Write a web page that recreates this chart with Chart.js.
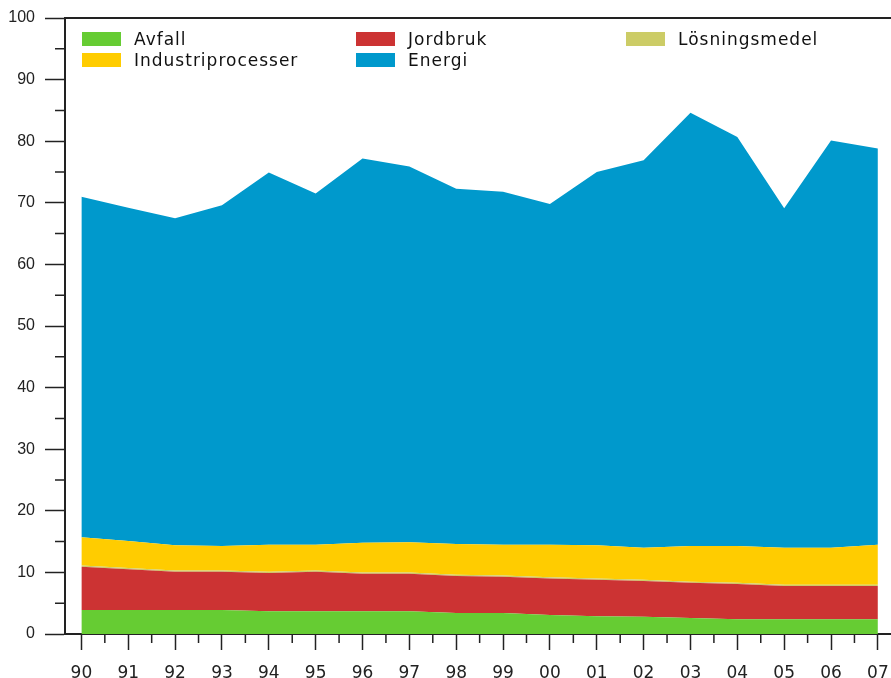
<!DOCTYPE html>
<html><head><meta charset="utf-8">
<script src="https://cdn.jsdelivr.net/npm/chart.js@4/dist/chart.umd.min.js"></script>
<style>
html,body{margin:0;padding:0;background:#fff;}
#wrap{position:relative;width:891px;height:678px;}
#legend{position:absolute;left:0;top:0;width:891px;height:80px;pointer-events:none;font-family:"DejaVu Sans";font-size:17px;letter-spacing:1px;color:#111;}
.item{position:absolute;display:flex;align-items:center;height:16px;white-space:nowrap;}
.box{width:39px;height:14px;margin-right:13px;flex:none;}
</style></head><body>
<div id="wrap"><canvas id="c" width="891" height="678"></canvas><div id="legend"></div></div>
<script>
const years = ['1990','1991','1992','1993','1994','1995','1996','1997','1998','1999','2000','2001','2002','2003','2004','2005','2006','2007'];
const xTickLabels = ['90','91','92','93','94','95','96','97','98','99','00','01','02','03','04','05','06','07'];
const yTickValues = [0,10,20,30,40,50,60,70,80,90,100];

const avfall =            [3.9,3.9,3.9,3.9,3.7,3.7,3.7,3.7,3.4,3.4,3.1,2.9,2.8,2.6,2.4,2.4,2.4,2.4];
const jordbruk =          [7.0,6.6,6.2,6.2,6.2,6.4,6.1,6.1,6.0,5.9,5.9,5.9,5.8,5.7,5.7,5.4,5.4,5.4];
const losningsmedel =     [0.2,0.2,0.2,0.2,0.2,0.2,0.2,0.2,0.2,0.2,0.2,0.2,0.2,0.2,0.2,0.2,0.2,0.2];
const industriprocesser = [4.6,4.4,4.1,4.0,4.4,4.2,4.8,4.9,5.0,5.0,5.3,5.4,5.2,5.8,6.0,6.0,6.0,6.5];
const energi =            [55.3,54.1,53.1,55.3,60.4,57.0,62.4,61.0,57.7,57.3,55.3,60.6,62.9,70.3,66.4,55.1,66.1,64.3];

const seriesLabels = ['Avfall','Jordbruk','Lösningsmedel','Industriprocesser','Energi'];
const seriesValues = [avfall, jordbruk, losningsmedel, industriprocesser, energi];
const seriesColors = ['#66cc33','#cc3333','#cccc66','#ffcc00','#0099cc'];

// legend (HTML), grid of 3 columns x 2 rows
const legendCols = [82, 356, 626];
const legendRows = [31, 52];
const legendOrder = [0,1,2,3,4];
const legend = document.getElementById('legend');
legendOrder.forEach((si, k) => {
  const d = document.createElement('div');
  d.className = 'item';
  d.style.left = legendCols[k % 3] + 'px';
  d.style.top = legendRows[Math.floor(k / 3)] + 'px';
  const b = document.createElement('span');
  b.className = 'box';
  b.style.background = seriesColors[si];
  const t = document.createElement('span');
  t.textContent = seriesLabels[si];
  d.appendChild(b); d.appendChild(t);
  legend.appendChild(d);
});

const AXIS = '#222';

const extras = {
  id: 'extras',
  afterDraw(chart) {
    const {ctx, chartArea: a, scales: {x, y}} = chart;
    ctx.save();
    ctx.strokeStyle = AXIS;
    ctx.lineWidth = 1.5;
    ctx.beginPath();
    for (let i = 0; i < yTickValues.length - 1; i++) {
      const py = y.getPixelForValue((yTickValues[i] + yTickValues[i + 1]) / 2);
      ctx.moveTo(a.left - 10, py); ctx.lineTo(a.left, py);
    }
    for (let i = 0; i < years.length - 1; i++) {
      const px = x.getPixelForValue(i + 0.5);
      ctx.moveTo(px, a.bottom); ctx.lineTo(px, a.bottom + 9);
    }
    ctx.stroke();
    ctx.lineWidth = 2;
    ctx.beginPath();
    ctx.moveTo(a.left, a.top); ctx.lineTo(chart.width, a.top);
    ctx.moveTo(a.right, a.bottom); ctx.lineTo(chart.width, a.bottom);
    ctx.stroke();
    ctx.restore();
  }
};

new Chart(document.getElementById('c'), {
  type: 'line',
  data: {
    datasets: seriesValues.map((vals, i) => ({
      label: seriesLabels[i],
      data: vals.map((v, j) => ({x: j, y: v})),
      backgroundColor: seriesColors[i],
      borderColor: seriesColors[i],
      borderWidth: 0,
      pointRadius: 0,
      tension: 0,
      fill: i === 0 ? 'origin' : '-1'
    }))
  },
  options: {
    responsive: false,
    animation: false,
    devicePixelRatio: 1,
    layout: {padding: {top: 18, right: 0, left: 0, bottom: 0}},
    plugins: {legend: {display: false}, tooltip: {enabled: false}},
    scales: {
      x: {
        type: 'linear',
        min: -0.35,
        max: 17.28,
        afterBuildTicks(s) { s.ticks = xTickLabels.map((_, i) => ({value: i})); },
        afterFit(s) { s.height = 44; s.paddingLeft = 0; s.paddingRight = 0; },
        ticks: {
          callback: (v) => xTickLabels[v],
          autoSkip: false, maxRotation: 0,
          font: {family: 'DejaVu Sans', size: 17},
          color: AXIS,
          padding: 13
        },
        grid: {drawOnChartArea: false, tickLength: 16, tickColor: AXIS, tickWidth: 1.5},
        border: {display: true, color: AXIS, width: 2}
      },
      y: {
        stacked: true,
        min: 0,
        max: 100,
        afterBuildTicks(s) { s.ticks = yTickValues.map(v => ({value: v})); },
        afterFit(s) { s.width = 65; s.paddingTop = 0; s.paddingBottom = 0; },
        ticks: {
          font: {family: 'Liberation Sans', size: 16},
          color: AXIS,
          padding: 10
        },
        grid: {drawOnChartArea: false, tickLength: 20, tickColor: AXIS, tickWidth: 1.5},
        border: {display: true, color: AXIS, width: 2}
      }
    }
  },
  plugins: [extras]
});
</script>
</body></html>
